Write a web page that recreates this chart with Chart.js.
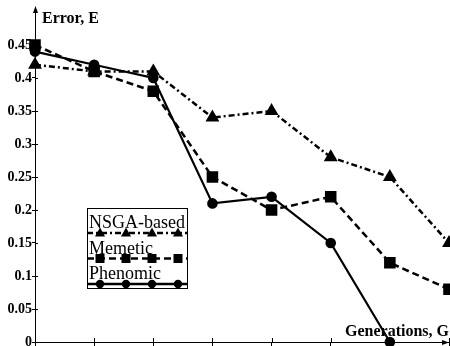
<!DOCTYPE html>
<html>
<head>
<meta charset="utf-8">
<script src="https://cdn.jsdelivr.net/npm/chart.js@4/dist/chart.umd.min.js"></script>
<style>
  html, body { margin: 0; padding: 0; background: #fff; }
  #wrap { width: 450px; height: 346px; }
</style>
</head>
<body>
<div id="wrap"><canvas id="grafica"></canvas></div>
<script>
// generations (x positions, no labels printed on the axis)
var generaciones = [0, 1, 2, 3, 4, 5, 6, 7];
// error values
var nsga = [0.42, 0.41, 0.41, 0.34, 0.35, 0.28, 0.25, 0.15];
var memetic = [0.45, 0.41, 0.38, 0.25, 0.20, 0.22, 0.12, 0.08];
var phenomic = [0.44, 0.42, 0.40, 0.21, 0.22, 0.15, 0.00];
// y tick labels
var yTicks = ['0', '0.05', '0.1', '0.15', '0.2', '0.25', '0.3', '0.35', '0.4', '0.45'];

var serif = '"Liberation Serif", "Times New Roman", serif';

// dibuja un marcador simple
function marcador(ctx, estilo, x, y) {
    ctx.beginPath();
    if (estilo === 'triangle') {
        ctx.moveTo(x, y - 5.5);
        ctx.lineTo(x + 5, y + 3.5);
        ctx.lineTo(x - 5, y + 3.5);
        ctx.closePath();
    } else if (estilo === 'rect') {
        ctx.rect(x - 4.5, y - 4.5, 9, 9);
    } else {
        ctx.arc(x, y, 4.2, 0, Math.PI * 2);
    }
    ctx.fill();
}

// ejes con flechas, medias marcas interiores, titulos y leyenda en caja
var decoracion = {
    id: 'decoracion',
    afterDraw: function(chart) {
        var ctx = chart.ctx;
        var a = chart.chartArea;
        var xs = chart.scales.x, ys = chart.scales.y;
        ctx.save();
        ctx.strokeStyle = '#000';
        ctx.fillStyle = '#000';
        ctx.lineWidth = 1;
        ctx.setLineDash([]);

        // marcas interiores
        ctx.beginPath();
        ys.ticks.forEach(function(t) {
            var py = Math.round(ys.getPixelForValue(t.value)) + 0.5;
            ctx.moveTo(a.left, py);
            ctx.lineTo(a.left + 3, py);
        });
        xs.ticks.forEach(function(t, i) {
            var px = Math.round(xs.getPixelForTick(i)) + 0.5;
            ctx.moveTo(px, a.bottom);
            ctx.lineTo(px, a.bottom - 4);
        });
        ctx.stroke();

        // flechas
        var x0 = Math.round(a.left) + 0.5, y0 = Math.round(a.bottom) + 0.5;
        ctx.beginPath();
        ctx.moveTo(x0, a.top);
        ctx.lineTo(x0, a.top - 4);
        ctx.stroke();
        ctx.beginPath();
        ctx.moveTo(x0, a.top - 6);
        ctx.lineTo(x0 + 2.5, a.top + 1);
        ctx.lineTo(x0 - 2.5, a.top + 1);
        ctx.closePath();
        ctx.fill();
        ctx.beginPath();
        ctx.moveTo(a.right, y0);
        ctx.lineTo(a.right - 7, y0 - 2.5);
        ctx.lineTo(a.right - 7, y0 + 2.5);
        ctx.closePath();
        ctx.fill();

        // titulos de los ejes
        ctx.font = 'bold 16px ' + serif;
        ctx.textBaseline = 'alphabetic';
        ctx.textAlign = 'left';
        ctx.fillText('Error, E', 42, 23);
        ctx.textAlign = 'right';
        ctx.fillText('Generations, G', 449, 336);

        // leyenda
        var bx = 87, by = 208, bw = 100, bh = 80;
        ctx.fillStyle = '#fff';
        ctx.fillRect(bx, by, bw, bh);
        ctx.fillStyle = '#000';
        ctx.strokeRect(bx + 0.5, by + 0.5, bw, bh);
        ctx.font = '18px ' + serif;
        ctx.textAlign = 'left';
        chart.data.datasets.forEach(function(ds, i) {
            var ty = 228 + i * 25.5;
            var ly = 233 + i * 25.5;
            ctx.fillText(ds.label, bx + 2, ty);
            ctx.lineWidth = 2.5;
            ctx.setLineDash(ds.borderDash || []);
            ctx.beginPath();
            ctx.moveTo(bx, ly);
            ctx.lineTo(bx + bw, ly);
            ctx.stroke();
            ctx.setLineDash([]);
            [100, 126, 152, 178].forEach(function(mx) {
                marcador(ctx, ds.pointStyle, mx, ly);
            });
        });
        ctx.restore();
    }
};

var datos = {
    labels: generaciones,
    datasets: [{
        label: 'NSGA-based',
        data: nsga,
        borderColor: '#000',
        backgroundColor: '#000',
        borderWidth: 2.5,
        borderDash: [6, 3, 2, 3],
        pointStyle: 'triangle',
        pointRadius: 5.5,
        clip: false
    },
    {
        label: 'Memetic',
        data: memetic,
        borderColor: '#000',
        backgroundColor: '#000',
        borderWidth: 2.5,
        borderDash: [7, 4],
        pointStyle: 'rect',
        pointRadius: 6.4,
        clip: false
    },
    {
        label: 'Phenomic',
        data: phenomic,
        borderColor: '#000',
        backgroundColor: '#000',
        borderWidth: 2.2,
        pointStyle: 'circle',
        pointRadius: 4.2,
        clip: false
    }]
};

var opciones = {
    responsive: true,
    maintainAspectRatio: false,
    animation: false,
    layout: { autoPadding: false, padding: { top: 12, right: 1, left: 0, bottom: 0 } },
    elements: { line: { tension: 0 }, point: { borderWidth: 0 } },
    scales: {
        x: {
            type: 'category',
            offset: false,
            grid: { display: true, drawOnChartArea: false, drawTicks: true, tickLength: 4, color: '#000' },
            border: { display: true, color: '#000', width: 1 },
            ticks: { display: false },
            afterFit: function(scale) { scale.height = 4; }
        },
        y: {
            min: 0,
            max: 0.5,
            grid: { display: true, drawOnChartArea: false, drawTicks: true, tickLength: 3, color: '#000' },
            border: { display: true, color: '#000', width: 1 },
            afterBuildTicks: function(scale) {
                scale.ticks = yTicks.map(function(t) { return { value: parseFloat(t) }; });
            },
            ticks: {
                padding: 0,
                color: '#000',
                font: { family: serif, size: 14, weight: 'bold', lineHeight: 0.5 },
                callback: function(v) { return yTicks[Math.round(v / 0.05)]; }
            },
            afterFit: function(scale) { scale.width = 35; }
        }
    },
    plugins: {
        legend: { display: false },
        tooltip: { enabled: false }
    }
};

var ctx = document.getElementById('grafica').getContext('2d');
var grafica = new Chart(ctx, {
    type: 'line',
    data: datos,
    options: opciones,
    plugins: [decoracion]
});
</script>
</body>
</html>
